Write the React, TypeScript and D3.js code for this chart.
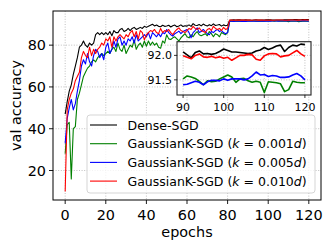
import React, { useRef, useEffect } from 'react'
import * as d3 from 'd3'

// val accuracy per epoch (0..120)
const denseSGD = [
  47, 53, 58, 61, 66, 70, 74, 79, 80, 82,
  80, 79, 81, 80, 81, 85, 86, 85, 86, 85,
  86, 85, 86.5, 84.5, 87, 86, 86, 87.5, 88, 86.5,
  87, 88, 87, 88, 88.5, 87.5, 88, 88.5, 88, 89,
  88.5, 89, 89.5, 90, 89.2, 89.6, 89, 88.8, 89.5, 89,
  89.2, 89.5, 88.7, 89.3, 89.6, 88.8, 89.2, 89.7, 88.9, 89.3,
  89.1, 89.7, 89, 90.3, 89.5, 89.4, 89.9, 89.2, 90.1, 89.5,
  89.2, 89.8, 89.3, 90.2, 89.4, 89.6, 89.9, 89.1, 89.7, 89.3,
  89.5, 91.95, 92.05, 92.1, 92.0, 92.08, 92.12, 92.05, 92.0, 92.1,
  92.07, 92.01, 91.95, 92.06, 92.09, 92.03, 92.04, 92.02, 92.04, 92.08,
  92.13, 92.1, 92.07, 92.07, 92.06, 92.05, 92.04, 92.05, 92.09, 92.11,
  92.16, 92.12, 92.15, 92.19, 92.21, 92.08, 92.16, 92.21, 92.19, 92.23,
  92.22,
]

const gk001 = [
  28, 42, 43, 16, 40, 41, 54, 57, 61, 65,
  67, 69, 70, 72, 73, 72, 74, 75, 76, 75,
  76, 77, 76, 78, 79, 77, 81, 78, 77, 80,
  76, 78, 80, 79, 82.5, 78, 80, 81, 79, 82,
  79.5, 82, 80, 81.5, 80, 81, 79, 78.5, 82, 81,
  85, 83, 82.7, 83.5, 84, 83, 82, 83.5, 84.5, 85.5,
  84, 83.5, 85, 84, 85.5, 86.5, 85, 84.5, 85, 85.5,
  84.5, 86.5, 85.5, 84, 85.5, 85, 84, 86, 85.5, 85,
  86, 91.45, 91.4, 91.48, 91.43, 91.5, 91.44, 91.4, 91.47, 91.44,
  91.52, 91.58, 91.56, 91.53, 91.47, 91.4, 91.48, 91.46, 91.47, 91.52,
  91.56, 91.6, 91.56, 91.45, 91.52, 91.53, 91.48, 91.45, 91.47, 91.45,
  91.24, 91.46, 91.45, 91.44, 91.42, 91.26, 91.3, 91.47, 91.45, 91.44,
  91.44,
]

const gk005 = [
  33, 45, 50, 54, 49, 52, 58, 63, 70, 73,
  71, 76, 72, 70, 75, 78, 77, 74, 76, 73,
  79, 81, 76, 78, 82, 79, 83, 84, 80, 82,
  80, 83, 82, 84, 81, 85, 82, 83, 84, 85,
  84, 86, 83, 86, 85, 84, 85.5, 84, 86, 85.5,
  87.5, 86, 85, 84.3, 85.5, 86, 86.7, 85.5, 86.5, 87,
  87.5, 86, 83.5, 86, 87, 88.3, 86, 86.5, 87.5, 86.5,
  85.5, 85, 86.5, 86, 87, 87.5, 86.5, 87, 86, 85.5,
  86, 91.4, 91.45, 91.38, 91.42, 91.47, 91.4, 91.36, 91.43, 91.38,
  91.4, 91.41, 91.44, 91.47, 91.45, 91.4, 91.46, 91.49, 91.49, 91.48,
  91.52, 91.49, 91.52, 91.52, 91.52, 91.5, 91.52, 91.58, 91.66, 91.6,
  91.61, 91.57, 91.59, 91.58, 91.55, 91.55, 91.56, 91.6, 91.63, 91.58,
  91.5,
]

const gk010 = [
  10, 49, 54, 57, 59, 63, 65, 67, 74, 77,
  75, 74, 79, 75, 78, 76, 78, 79, 81, 80,
  83, 82, 84, 79, 84, 82, 84, 85, 84, 83,
  85, 84, 86, 87, 84, 86.5, 83, 87, 86, 82.5,
  85, 86, 87, 86.5, 87.5, 86, 85.5, 88, 86, 87,
  86.5, 87.5, 86, 85, 86.5, 87.5, 88.3, 87, 86.5, 86,
  87, 88, 87.5, 89, 88, 87.5, 88.3, 87, 86.5, 86,
  87.5, 88, 87, 89, 88, 87.5, 88, 87, 88.5, 87.5,
  88, 91.98, 92.02, 91.95, 92.0, 91.97, 92.03, 91.96, 92.0, 91.98,
  91.99, 91.96, 91.93, 92.0, 92.03, 91.97, 91.96, 91.98, 91.95, 91.97,
  91.94, 91.96, 91.9, 91.95, 92.0, 92.0, 92.02, 92.01, 91.92, 91.9,
  91.99, 92.03, 92.04, 92.03, 91.97, 91.99, 92.0, 92.05, 92.1, 92.03,
  91.98,
]

const seriesNames = ['Dense-SGD', 'GaussianK-SGD', 'GaussianK-SGD', 'GaussianK-SGD']
const kLabels = ['', '0.001', '0.005', '0.010']
const seriesColors = ['#000000', '#008000', '#0000ff', '#ff0000']
const xTicks = [0, 20, 40, 60, 80, 100, 120]
const yTicks = [20, 40, 60, 80]
const insetXTicks = [90, 100, 110, 120]
const insetYTicks = [91.5, 92.0]
const insetFrom = 90

const font = 'DejaVu Sans, sans-serif'

export default function App() {
  const svgRef = useRef<SVGSVGElement | null>(null)

  useEffect(() => {
    if (!svgRef.current) return
    const svg = d3.select(svgRef.current)
    svg.selectAll('*').remove()

    const series = [denseSGD, gk001, gk005, gk010]
    const epochs = denseSGD.map((_, i) => i)

    const m = { left: 53, top: 11, right: 321, bottom: 200 }

    // main scales, matplotlib-like 5% margins
    const [ylo, yhi] = d3.extent(series.flat()) as [number, number]
    const ypad = (yhi - ylo) * 0.05
    const x = d3.scaleLinear().domain([-6, 126]).range([m.left, m.right])
    const y = d3.scaleLinear().domain([ylo - ypad, yhi + ypad]).range([m.bottom, m.top])

    const grid = svg.append('g')
    xTicks.forEach(t => {
      grid.append('line')
        .attr('x1', x(t)).attr('x2', x(t)).attr('y1', m.top).attr('y2', m.bottom)
        .attr('stroke', '#b0b0b0').attr('stroke-width', 0.8).attr('stroke-dasharray', '1,1.6')
    })
    yTicks.forEach(t => {
      grid.append('line')
        .attr('x1', m.left).attr('x2', m.right).attr('y1', y(t)).attr('y2', y(t))
        .attr('stroke', '#b0b0b0').attr('stroke-width', 0.8).attr('stroke-dasharray', '1,1.6')
    })

    const line = d3.line<number>().x((_, i) => x(epochs[i])).y(d => y(d))
    series.forEach((s, i) => {
      svg.append('path')
        .attr('d', line(s))
        .attr('fill', 'none')
        .attr('stroke', seriesColors[i])
        .attr('stroke-width', 1.1)
        .attr('stroke-linejoin', 'round')
    })

    // frame
    svg.append('rect')
      .attr('x', m.left).attr('y', m.top)
      .attr('width', m.right - m.left).attr('height', m.bottom - m.top)
      .attr('fill', 'none').attr('stroke', '#000').attr('stroke-width', 1)

    // ticks + labels
    xTicks.forEach(t => {
      svg.append('line')
        .attr('x1', x(t)).attr('x2', x(t)).attr('y1', m.bottom).attr('y2', m.bottom + 4)
        .attr('stroke', '#000').attr('stroke-width', 0.9)
      svg.append('text')
        .attr('x', x(t)).attr('y', 220)
        .attr('text-anchor', 'middle')
        .style('font-family', font).style('font-size', '14.4px')
        .text(t)
    })
    yTicks.forEach(t => {
      svg.append('line')
        .attr('x1', m.left - 4).attr('x2', m.left).attr('y1', y(t)).attr('y2', y(t))
        .attr('stroke', '#000').attr('stroke-width', 0.9)
      svg.append('text')
        .attr('x', m.left - 7).attr('y', y(t)).attr('dy', '0.36em')
        .attr('text-anchor', 'end')
        .style('font-family', font).style('font-size', '14.4px')
        .text(t)
    })

    svg.append('text')
      .attr('x', (m.left + m.right) / 2).attr('y', 237)
      .attr('text-anchor', 'middle')
      .style('font-family', font).style('font-size', '14.4px')
      .text('epochs')
    svg.append('text')
      .attr('transform', `translate(20.5,${(m.top + m.bottom) / 2}) rotate(-90)`)
      .attr('text-anchor', 'middle')
      .style('font-family', font).style('font-size', '14.4px')
      .text('val accuracy')

    // legend
    const lg = svg.append('g')
    lg.append('rect')
      .attr('x', 87).attr('y', 115).attr('width', 228).attr('height', 78)
      .attr('rx', 3)
      .attr('fill', '#fff').attr('fill-opacity', 0.8)
      .attr('stroke', '#d0d0d0').attr('stroke-width', 0.9)
    seriesNames.forEach((name, i) => {
      const cy = 125 + i * 18.7
      lg.append('line')
        .attr('x1', 90).attr('x2', 117).attr('y1', cy).attr('y2', cy)
        .attr('stroke', seriesColors[i]).attr('stroke-width', 1.1)
      const tx = lg.append('text')
        .attr('x', 127.5).attr('y', cy).attr('dy', '0.36em')
        .style('font-family', font).style('font-size', '12.5px')
      tx.append('tspan').text(name)
      if (kLabels[i]) {
        tx.append('tspan').text(' (')
        tx.append('tspan').style('font-style', 'italic').text('k')
        tx.append('tspan').text(` = ${kLabels[i]}`)
        tx.append('tspan').style('font-style', 'italic').text('d')
        tx.append('tspan').text(')')
      }
    })

    // inset zoom on last epochs
    const ib = { left: 177, top: 41.7, right: 311, bottom: 95 }
    const tail = series.map(s => s.slice(insetFrom))
    const [ilo, ihi] = d3.extent(tail.flat()) as [number, number]
    const ipad = (ihi - ilo) * 0.05
    const ix = d3.scaleLinear().domain([88.5, 121.5]).range([ib.left, ib.right])
    const iy = d3.scaleLinear().domain([ilo - ipad, ihi + ipad]).range([ib.bottom, ib.top])

    const ig = svg.append('g')
    ig.append('rect')
      .attr('x', ib.left).attr('y', ib.top)
      .attr('width', ib.right - ib.left).attr('height', ib.bottom - ib.top)
      .attr('fill', '#fff')
    insetXTicks.forEach(t => {
      ig.append('line')
        .attr('x1', ix(t)).attr('x2', ix(t)).attr('y1', ib.top).attr('y2', ib.bottom)
        .attr('stroke', '#b0b0b0').attr('stroke-width', 0.8).attr('stroke-dasharray', '1,1.6')
    })
    insetYTicks.forEach(t => {
      ig.append('line')
        .attr('x1', ib.left).attr('x2', ib.right).attr('y1', iy(t)).attr('y2', iy(t))
        .attr('stroke', '#b0b0b0').attr('stroke-width', 0.8).attr('stroke-dasharray', '1,1.6')
    })
    const iline = d3.line<number>().x((_, i) => ix(epochs[i + insetFrom])).y(d => iy(d))
    tail.forEach((s, i) => {
      ig.append('path')
        .attr('d', iline(s))
        .attr('fill', 'none')
        .attr('stroke', seriesColors[i])
        .attr('stroke-width', 1.6)
        .attr('stroke-linejoin', 'round')
    })
    ig.append('rect')
      .attr('x', ib.left).attr('y', ib.top)
      .attr('width', ib.right - ib.left).attr('height', ib.bottom - ib.top)
      .attr('fill', 'none').attr('stroke', '#222').attr('stroke-width', 1.1)
    insetXTicks.forEach(t => {
      ig.append('line')
        .attr('x1', ix(t)).attr('x2', ix(t)).attr('y1', ib.bottom).attr('y2', ib.bottom + 3)
        .attr('stroke', '#000').attr('stroke-width', 0.8)
      ig.append('text')
        .attr('x', ix(t)).attr('y', 107).attr('dy', '0.36em')
        .attr('text-anchor', 'middle')
        .style('font-family', font).style('font-size', '11px')
        .text(t)
    })
    insetYTicks.forEach(t => {
      ig.append('line')
        .attr('x1', ib.left - 3).attr('x2', ib.left).attr('y1', iy(t)).attr('y2', iy(t))
        .attr('stroke', '#000').attr('stroke-width', 0.8)
      ig.append('text')
        .attr('x', ib.left - 5).attr('y', iy(t)).attr('dy', '0.36em')
        .attr('text-anchor', 'end')
        .style('font-family', font).style('font-size', '11px')
        .text(t.toFixed(1))
    })
  }, [])

  return (
    <svg
      ref={svgRef}
      width={333}
      height={249}
      style={{ position: 'absolute', left: 0, top: 0, background: '#fff' }}
    />
  )
}
